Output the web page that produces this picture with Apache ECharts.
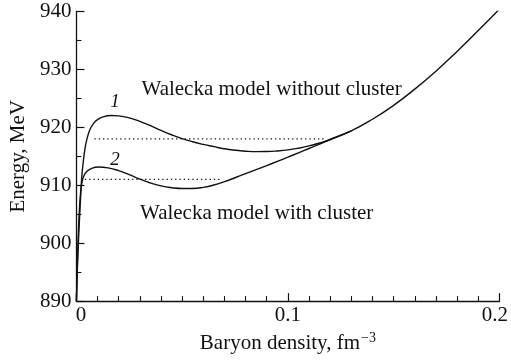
<!DOCTYPE html>
<html>
<head>
<meta charset="utf-8">
<script src="https://cdn.jsdelivr.net/npm/echarts@6/dist/echarts.min.js"></script>
<style>
html,body{margin:0;padding:0;background:#fff;}
#chart{width:511px;height:360px;}
</style>
</head>
<body>
<div id="chart"></div>
<script>
// Curve 1: Walecka model without cluster
var rho1 = [0, 0.0005, 0.001, 0.0015, 0.002, 0.0025, 0.003, 0.004, 0.005, 0.0065, 0.008, 0.0095, 0.0125, 0.0166, 0.02, 0.025, 0.03, 0.035, 0.04, 0.045, 0.05, 0.055, 0.06, 0.065, 0.07, 0.075, 0.08, 0.085, 0.09, 0.095, 0.1, 0.105, 0.11, 0.115, 0.12, 0.13, 0.14, 0.15, 0.16, 0.17, 0.18, 0.19, 0.2];
var energy1 = [890, 896, 900.5, 904.5, 908, 911.3, 913.2, 916.2, 918.0, 919.7, 920.6, 921.2, 921.8, 922.05, 921.98, 921.63, 921.03, 920.28, 919.48, 918.72, 918.06, 917.51, 917.05, 916.66, 916.3, 916.05, 915.88, 915.8, 915.82, 915.92, 916.1, 916.4, 916.8, 917.3, 917.9, 919.4, 921.4, 923.8, 926.6, 929.7, 933.1, 936.7, 940.4];
// Curve 2: Walecka model with cluster
var rho2 = [0, 0.0005, 0.001, 0.0015, 0.002, 0.0025, 0.0035, 0.005, 0.0075, 0.0103, 0.015, 0.02, 0.025, 0.03, 0.035, 0.04, 0.045, 0.05, 0.055, 0.06, 0.065, 0.07, 0.075, 0.08, 0.085, 0.09, 0.095, 0.1, 0.105, 0.11, 0.115, 0.12, 0.13];
var energy2 = [890, 897, 902.5, 906.2, 908.8, 910.2, 911.6, 912.4, 912.95, 913.15, 913.0, 912.52, 911.82, 911.07, 910.39, 909.89, 909.58, 909.43, 909.44, 909.64, 910.04, 910.62, 911.3, 912.0, 912.7, 913.4, 914.12, 914.85, 915.6, 916.35, 917.1, 917.9, 919.4];
// Dotted (Maxwell construction) lines
var dotted1Rho = [0.0085, 0.118];
var dotted1E = [918, 918];
var dotted2Rho = [0.004, 0.069];
var dotted2E = [911, 911];
// Axis ticks
var xTicks = [0, 0.1, 0.2];
var yTicks = [890, 900, 910, 920, 930, 940];
var curveLabels = ['1', '2'];
var noteLabels = ['Walecka model without cluster', 'Walecka model with cluster'];

function pairs(xs, ys){ return xs.map(function(x,i){ return [x, ys[i]]; }); }

var serif = '"Liberation Serif","Times New Roman",serif';
var chart = echarts.init(document.getElementById('chart'), null, {renderer:'canvas'});
var option = {
  animation: false,
  backgroundColor: '#fff',
  grid: {left: 76, right: 9, top: 11.5, bottom: 52, containLabel: false},
  xAxis: {
    type: 'value', min: xTicks[0], max: xTicks[xTicks.length-1], interval: 0.1,
    name: 'Baryon density, fm{sup|−3}', nameLocation: 'middle', nameGap: 27,
    nameTextStyle: {fontFamily: serif, fontSize: 21, color: '#111', lineHeight: 24,
      rich: {sup: {fontFamily: serif, fontSize: 14, color: '#111', lineHeight: 14, verticalAlign: 'top', padding: [0,0,0,1]}}},
    axisLine: {show: true, onZero: false, lineStyle: {color: '#111', width: 1.3}},
    axisTick: {show: true, inside: true, length: 8, lineStyle: {color: '#111', width: 1.2}},
    minorTick: {show: true, splitNumber: 10, length: 5, lineStyle: {color: '#111', width: 1.1}},
    splitLine: {show: false},
    axisLabel: {fontFamily: serif, fontSize: 21, color: '#111', margin: 4,
      formatter: function(v){
        if (v === xTicks[0]) return '{l|0}';
        if (Math.abs(v - xTicks[2]) < 1e-9) return '{r|0.2}';
        return String(Math.round(v*10)/10);
      },
      rich: {l: {fontFamily: serif, fontSize: 21, color: '#111', padding: [0,0,0,9]},
             r: {fontFamily: serif, fontSize: 21, color: '#111', padding: [0,9,0,0]}}}
  },
  yAxis: {
    type: 'value', min: yTicks[0], max: yTicks[yTicks.length-1], interval: 10,
    name: 'Energy, MeV', nameLocation: 'middle', nameGap: 35, nameRotate: 90,
    nameTextStyle: {fontFamily: serif, fontSize: 21, color: '#111'},
    axisLine: {show: true, onZero: false, lineStyle: {color: '#111', width: 1.3}},
    axisTick: {show: true, inside: true, length: 8, lineStyle: {color: '#111', width: 1.2}},
    minorTick: {show: true, splitNumber: 2, length: 5, lineStyle: {color: '#111', width: 1.1}},
    splitLine: {show: false},
    axisLabel: {fontFamily: serif, fontSize: 21, color: '#111', margin: 5}
  },
  series: [
    {type: 'line', data: pairs(rho1, energy1), showSymbol: false, smooth: 0.5,
     lineStyle: {color: '#111', width: 1.4}, silent: true},
    {type: 'line', data: pairs(rho2, energy2), showSymbol: false, smooth: 0.5,
     lineStyle: {color: '#111', width: 1.4}, silent: true},
    {type: 'line', data: pairs(dotted1Rho, dotted1E), showSymbol: false,
     lineStyle: {color: '#111', width: 1.3, type: [1.3, 3]}, silent: true},
    {type: 'line', data: pairs(dotted2Rho, dotted2E), showSymbol: false,
     lineStyle: {color: '#111', width: 1.3, type: [1.3, 3]}, silent: true}
  ],
  graphic: [
    {type: 'text', x: 141.5, y: 89.5, style: {text: noteLabels[0], font: '21px ' + serif, fill: '#111', align: 'left', verticalAlign: 'middle'}},
    {type: 'text', x: 140, y: 213.5, style: {text: noteLabels[1], font: '21px ' + serif, fill: '#111', align: 'left', verticalAlign: 'middle'}},
    {type: 'text', x: 115, y: 102, style: {text: curveLabels[0], font: 'italic 19px ' + serif, fill: '#111', align: 'center', verticalAlign: 'middle'}},
    {type: 'text', x: 115, y: 159.5, style: {text: curveLabels[1], font: 'italic 19px ' + serif, fill: '#111', align: 'center', verticalAlign: 'middle'}}
  ]
};
chart.setOption(option);
</script>
</body>
</html>
